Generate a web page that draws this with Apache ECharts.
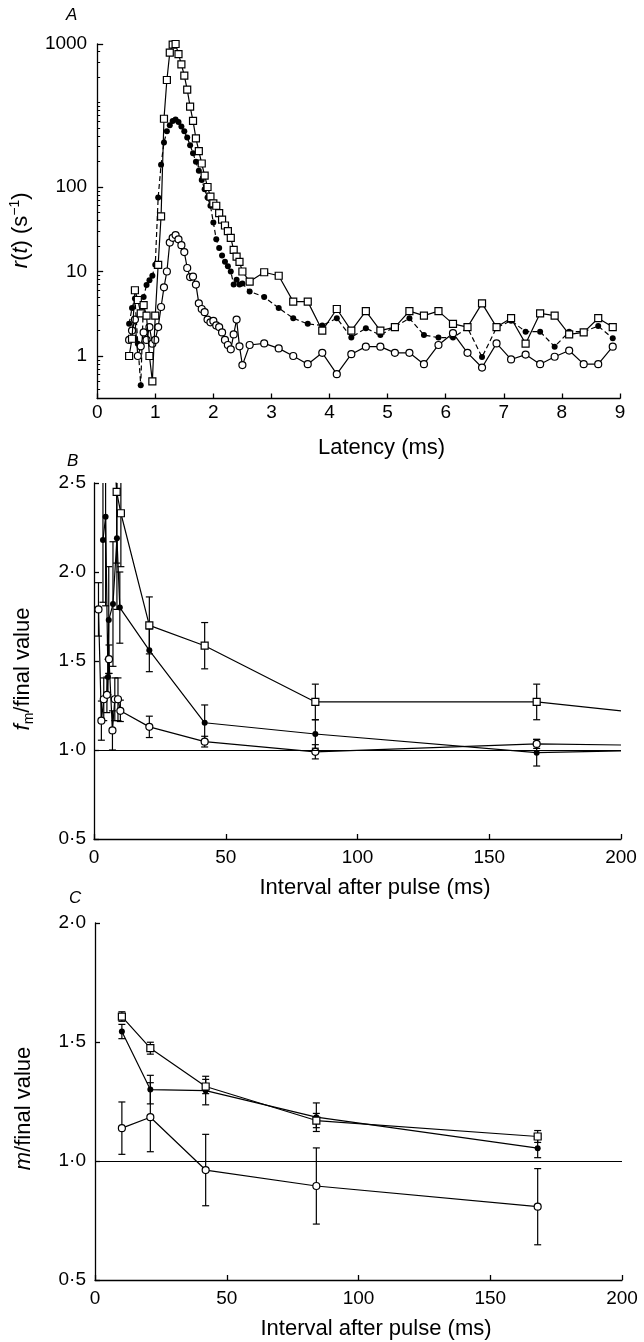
<!DOCTYPE html>
<html><head><meta charset="utf-8">
<script src="https://cdn.jsdelivr.net/npm/echarts@6.0.0/dist/echarts.min.js"></script>
<style>html,body{margin:0;padding:0;background:#fff}#c{width:644px;height:1342px}</style>
</head><body><div id="c"></div>
<script>
// ---------------- Panel A data (latency in ms, r(t) in s^-1) ----------------
const latencyDense = [0.55,0.60,0.65,0.70,0.75,0.80,0.85,0.90,0.95,1.00,1.05,1.10,1.15,1.20,1.25,1.30,1.35,1.40,1.45,1.50,1.55,1.60,1.65,1.70,1.75,1.80,1.85,1.90,1.95,2.00,2.05,2.10,2.15,2.20,2.25,2.30,2.35,2.40,2.45,2.50];
const latencySparse = [2.625,2.875,3.125,3.375,3.625,3.875,4.125,4.375,4.625,4.875,5.125,5.375,5.625,5.875,6.125,6.375,6.625,6.875,7.125,7.375,7.625,7.875,8.125,8.375,8.625,8.875];
const squaresADense = [1.0,1.6,6.0,4.6,3.2,4.0,3.0,1.0,0.5,3.0,12,45,300,560,870,990,1000,850,720,600,480,365,290,219,178,146,120,100,77,64,60,49,41,35,30,25,18,15,13,10];
const squaresASparse = [7.6,9.8,8.9,4.4,4.4,2.0,3.6,2.0,3.4,2.0,2.2,3.4,3.0,3.4,2.4,2.2,4.2,2.2,2.8,1.4,3.2,3.0,1.8,1.9,2.8,2.2];
const filledADense = [2.4,3.7,4.8,1.4,0.45,5.0,6.9,7.9,8.9,12,75,143,205,245,270,290,297,285,265,245,222,196,172,150,130,112,94,75,60,38,24,19,15.5,13,11.5,10,7,8,7,7.2];
const filledASparse = [5.8,5.0,3.7,2.8,2.4,2.3,2.8,1.66,2.13,1.77,2.22,2.79,1.77,1.65,1.65,2.16,0.97,2.16,2.62,1.94,1.94,1.29,1.94,1.94,2.26,1.62];
const openADense = [1.55,2.0,2.7,1.0,1.3,1.9,1.55,2.2,1.4,1.55,2.2,3.8,6.5,10,22,25,27,24,20.5,17,11,8.6,8.7,7.0,4.2,3.6,3.3,2.7,2.5,2.6,2.3,2.2,1.9,1.55,1.35,1.2,1.8,2.7,1.3,0.78];
const openASparse = [1.35,1.41,1.23,1.0,0.80,1.09,0.61,1.05,1.29,1.29,1.09,1.09,0.80,1.35,1.86,1.09,0.73,1.41,0.91,1.04,0.80,0.98,1.16,0.80,0.80,1.29];
const latencyTicks = [0,1,2,3,4,5,6,7,8,9];
const rateLabels = [1,10,100,1000];
const rateMinorTicks = [0.4,0.5,0.6,0.7,0.8,0.9,2,3,4,5,6,7,8,9,20,30,40,50,60,70,80,90,200,300,400,500,600,700,800,900,1000,2000,3000,4000];

// ---------------- Panel B data (interval ms, fm/final value) ----------------
const intervalSquaresB = [5.5,8.6,10.2,21,42,84,168];
const squaresB = [3.2,2.45,2.33,1.70,1.586,1.27,1.27];
const squaresBErr = [0.4,0.4,0.3,0.16,0.13,0.1,0.1];
const intervalFilledB = [3.4,4.4,5.3,5.6,7.2,8.7,9.8,21,42,84,168];
const filledB = [2.18,2.31,1.41,1.73,1.82,2.19,1.80,1.56,1.153,1.09,0.985];
const filledBErr = [0.35,0.5,0.1,0.3,0.35,0.4,0.2,0.12,0.1,0.08,0.075];
const intervalOpenB = [1.7,2.8,3.7,4.9,5.7,7.0,7.9,9.1,10.0,21,42,84,168];
const openB = [1.79,1.165,1.285,1.31,1.51,1.11,1.285,1.285,1.22,1.13,1.047,0.99,1.034];
const openBErr = [0.15,0.11,0.12,0.1,0.08,0.11,0.12,0.12,0.06,0.06,0.03,0.04,0.025];
const tailIntervalB = 200;
const squaresBTail = 1.22, filledBTail = 0.995, openBTail = 1.028;

// ---------------- Panel C data (interval ms, m/final value) ----------------
const intervalC = [10.2,21,42,84,168];
const squaresC = [1.607,1.474,1.313,1.17,1.103];
const squaresCErr = [0.02,0.025,0.03,0.03,0.025];
const filledC = [1.544,1.30,1.296,1.184,1.054];
const filledCErr = [0.03,0.06,0.06,0.06,0.04];
const openC = [1.138,1.184,0.962,0.895,0.808];
const openCErr = [0.11,0.145,0.15,0.16,0.16];

// ---------------- helpers ----------------
const FONT = 'Liberation Sans, Arial, Helvetica, sans-serif';
const A_TOP_STRETCH = 143 / 84.5; // the top decade of panel A's axis is drawn taller
const T = v => { const l = Math.log10(v); return l <= 2 ? l : 2 + (l - 2) * A_TOP_STRETCH; };
const invT = t => t <= 2 ? Math.pow(10, t) : Math.pow(10, 2 + (t - 2) / A_TOP_STRETCH);
const dot = v => v.toFixed(1).replace('.', '\u00b7');

const latencyA = latencyDense.concat(latencySparse);
const seriesA = (vals) => latencyA.map((t, i) => [t, T(vals[i])]);
const withTail = (xs, vs, tail) => xs.map((x, i) => [x, vs[i]]).concat([{ value: [tailIntervalB, tail], symbol: 'none' }]);

function errorSeries(xi, yi, xs, vs, es) {
  return {
    type: 'custom', xAxisIndex: xi, yAxisIndex: yi, z: 1, silent: true,
    encode: { x: 0, y: [1, 2] },
    data: xs.map((x, i) => [x, vs[i] - es[i], vs[i] + es[i]]),
    renderItem(params, api) {
      const x = api.value(0);
      const pHi = api.coord([x, api.value(2)]);
      const pLo = api.coord([x, api.value(1)]);
      const cs = params.coordSys;
      const yTop = cs.y, yBot = cs.y + cs.height;
      let top = pHi[1], bot = pLo[1];
      if (bot < yTop || top > yBot) return { type: 'group', children: [] };
      const clipTop = top < yTop, clipBot = bot > yBot;
      if (clipTop) top = yTop;
      if (clipBot) bot = yBot;
      const st = { stroke: '#000', lineWidth: 1.2 };
      const ch = [{ type: 'line', shape: { x1: pHi[0], y1: top, x2: pHi[0], y2: bot }, style: st }];
      if (!clipTop) ch.push({ type: 'line', shape: { x1: pHi[0] - 3.5, y1: top, x2: pHi[0] + 3.5, y2: top }, style: st });
      if (!clipBot) ch.push({ type: 'line', shape: { x1: pLo[0] - 3.5, y1: bot, x2: pLo[0] + 3.5, y2: bot }, style: st });
      return { type: 'group', children: ch };
    }
  };
}

const sqStyle = { symbol: 'rect', symbolSize: 7, itemStyle: { color: '#fff', borderColor: '#000', borderWidth: 1.2 } };
const fillStyle = { symbol: 'circle', symbolSize: 6, itemStyle: { color: '#000', borderColor: '#000', borderWidth: 0 } };
const openStyle = { symbol: 'circle', symbolSize: 7, itemStyle: { color: '#fff', borderColor: '#000', borderWidth: 1.2 } };

function lineSeries(xi, yi, data, sty, dash, z) {
  return Object.assign({
    type: 'line', xAxisIndex: xi, yAxisIndex: yi, data: data, z: z,
    showSymbol: true, showAllSymbol: true, clip: true, silent: true,
    lineStyle: { color: '#000', width: 1.2, type: dash || 'solid' }
  }, sty);
}

const axisLineStyle = { onZero: false, lineStyle: { color: '#000', width: 1.3 } };
const tickStyle = { inside: true, length: 5, lineStyle: { color: '#000', width: 1.3 } };
const labelBase = { color: '#000', fontSize: 19, fontFamily: FONT };
const nameBase = { color: '#000', fontSize: 22, fontFamily: FONT };

const chart = echarts.init(document.getElementById('c'), null, { width: 644, height: 1342 });

const option = {
  animation: false,
  backgroundColor: '#fff',
  grid: [
    { left: 92, top: 44, width: 528, height: 354.5 },
    { left: 94, top: 483, width: 527, height: 356 },
    { left: 95, top: 923, width: 527, height: 357 }
  ],
  graphic: [
    { type: 'text', left: 66, top: 7, style: { text: 'A', font: 'italic 17px ' + FONT, fill: '#000' } },
    { type: 'text', left: 67, top: 453, style: { text: 'B', font: 'italic 17px ' + FONT, fill: '#000' } },
    { type: 'text', left: 69, top: 890, style: { text: 'C', font: 'italic 17px ' + FONT, fill: '#000' } }
  ],
  xAxis: [
    { type: 'value', gridIndex: 0, min: latencyTicks[0], max: latencyTicks[latencyTicks.length - 1], interval: 1,
      axisLine: axisLineStyle, axisTick: tickStyle, splitLine: { show: false },
      axisLabel: Object.assign({ margin: 5 }, labelBase),
      name: 'Latency (ms)', nameLocation: 'middle', nameGap: 38,
      nameTextStyle: Object.assign({ padding: [0, 0, 0, 46] }, nameBase) },
    { type: 'value', gridIndex: 1, min: 0, max: 200, interval: 50,
      axisLine: axisLineStyle, axisTick: tickStyle, splitLine: { show: false },
      axisLabel: Object.assign({ margin: 9 }, labelBase),
      name: 'Interval after pulse (ms)', nameLocation: 'middle', nameGap: 38,
      nameTextStyle: Object.assign({ padding: [0, 0, 0, 35] }, nameBase) },
    { type: 'value', gridIndex: 2, min: 0, max: 200, interval: 50,
      axisLine: axisLineStyle, axisTick: tickStyle, splitLine: { show: false },
      axisLabel: Object.assign({ margin: 9 }, labelBase),
      name: 'Interval after pulse (ms)', nameLocation: 'middle', nameGap: 38,
      nameTextStyle: Object.assign({ padding: [0, 0, 0, 35] }, nameBase) }
  ],
  yAxis: [
    { type: 'value', gridIndex: 0, position: 'left', min: -0.503, max: T(1000),
      axisLine: axisLineStyle, splitLine: { show: false },
      axisTick: Object.assign({}, tickStyle, { length: 6, customValues: rateLabels.map(T) }),
      axisLabel: Object.assign({ margin: 10, customValues: rateLabels.map(T),
        formatter: v => String(Math.round(invT(v))) }, labelBase),
      name: '{i|r}({i|t}) (s{sup|\u22121})', nameLocation: 'middle', nameGap: 56,
      nameTextStyle: Object.assign({ padding: [0, 18, 0, 0], lineHeight: 26,
        rich: { i: { fontStyle: 'italic', fontSize: 22, fontFamily: FONT, lineHeight: 26, color: '#000' },
                sup: { fontSize: 14, fontFamily: FONT, lineHeight: 14, verticalAlign: 'top', color: '#000' } } }, nameBase) },
    { type: 'value', gridIndex: 0, position: 'left', offset: 0, min: -0.503, max: T(1000),
      axisLine: { show: false, onZero: false }, splitLine: { show: false }, axisLabel: { show: false },
      axisTick: { show: true, inside: true, length: 3, lineStyle: { color: '#000', width: 1 },
        customValues: rateMinorTicks.map(v => Math.log10(v)).filter(t => t > -0.503 && t < T(1000) - 0.01) } },
    { type: 'value', gridIndex: 1, min: 0.5, max: 2.5, interval: 0.5,
      axisLine: axisLineStyle, axisTick: tickStyle, splitLine: { show: false },
      axisLabel: Object.assign({ margin: 8, formatter: dot }, labelBase),
      name: '{i|f}{sub|m}/final value', nameLocation: 'middle', nameGap: 58,
      nameTextStyle: Object.assign({ padding: [0, 16, 0, 0], lineHeight: 26,
        rich: { i: { fontStyle: 'italic', fontSize: 22, fontFamily: FONT, lineHeight: 26, color: '#000' },
                sub: { fontSize: 14, fontFamily: FONT, lineHeight: 14, verticalAlign: 'bottom', color: '#000' } } }, nameBase) },
    { type: 'value', gridIndex: 2, min: 0.5, max: 2.0, interval: 0.5,
      axisLine: axisLineStyle, axisTick: tickStyle, splitLine: { show: false },
      axisLabel: Object.assign({ margin: 9, formatter: dot }, labelBase),
      name: '{i|m}/final value', nameLocation: 'middle', nameGap: 58,
      nameTextStyle: Object.assign({ padding: [0, 14, 0, 0], lineHeight: 26,
        rich: { i: { fontStyle: 'italic', fontSize: 22, fontFamily: FONT, lineHeight: 26, color: '#000' } } }, nameBase) }
  ],
  series: [
    // Panel A
    lineSeries(0, 0, seriesA(filledADense.concat(filledASparse)), fillStyle, [5, 3], 3),
    lineSeries(0, 0, seriesA(openADense.concat(openASparse)), openStyle, 'solid', 4),
    lineSeries(0, 0, seriesA(squaresADense.concat(squaresASparse)), sqStyle, 'solid', 5),
    // Panel B
    errorSeries(1, 2, intervalSquaresB, squaresB, squaresBErr),
    errorSeries(1, 2, intervalFilledB, filledB, filledBErr),
    errorSeries(1, 2, intervalOpenB, openB, openBErr),
    lineSeries(1, 2, withTail(intervalFilledB, filledB, filledBTail), fillStyle, 'solid', 3),
    Object.assign(lineSeries(1, 2, withTail(intervalOpenB, openB, openBTail), openStyle, 'solid', 4), {
      markLine: { silent: true, symbol: 'none', label: { show: false },
        lineStyle: { color: '#000', width: 1.2, type: 'solid' }, data: [{ yAxis: 1 }] } }),
    lineSeries(1, 2, withTail(intervalSquaresB, squaresB, squaresBTail), sqStyle, 'solid', 5),
    // Panel C
    errorSeries(2, 3, intervalC, squaresC, squaresCErr),
    errorSeries(2, 3, intervalC, filledC, filledCErr),
    errorSeries(2, 3, intervalC, openC, openCErr),
    lineSeries(2, 3, intervalC.map((x, i) => [x, filledC[i]]), fillStyle, 'solid', 3),
    Object.assign(lineSeries(2, 3, intervalC.map((x, i) => [x, openC[i]]), openStyle, 'solid', 4), {
      markLine: { silent: true, symbol: 'none', label: { show: false },
        lineStyle: { color: '#000', width: 1.2, type: 'solid' }, data: [{ yAxis: 1 }] } }),
    lineSeries(2, 3, intervalC.map((x, i) => [x, squaresC[i]]), sqStyle, 'solid', 5)
  ]
};
chart.setOption(option);
</script>
</body></html>
